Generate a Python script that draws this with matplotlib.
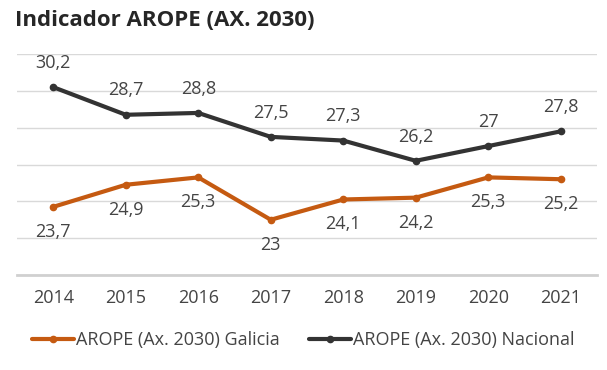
import matplotlib
matplotlib.use("Agg")
import matplotlib.pyplot as plt

# data
years = ["2014", "2015", "2016", "2017", "2018", "2019", "2020", "2021"]
galicia = [23.7, 24.9, 25.3, 23.0, 24.1, 24.2, 25.3, 25.2]
nacional = [30.2, 28.7, 28.8, 27.5, 27.3, 26.2, 27.0, 27.8]

ORANGE = "#C55A11"
DARK = "#333333"
TEXT = "#444444"

plt.rcParams["font.family"] = ["Open Sans", "DejaVu Sans"]


def fmt(v):
    # Spanish decimal comma, drop ".0"
    if v == int(v):
        return str(int(v))
    return f"{v:.1f}".replace(".", ",")


fig = plt.figure(figsize=(6.07, 3.70), dpi=100)
ax = fig.add_axes([17 / 607, 95 / 370, 580 / 607, 221 / 370])

x = range(len(years))
ax.plot(x, galicia, color=ORANGE, lw=3, marker="o", ms=4.5,
        solid_capstyle="round", label="AROPE (Ax. 2030) Galicia", zorder=3)
ax.plot(x, nacional, color=DARK, lw=3, marker="o", ms=4.5,
        solid_capstyle="round", label="AROPE (Ax. 2030) Nacional", zorder=3)

# data labels: Nacional above, Galicia below
for i, v in enumerate(nacional):
    ax.annotate(fmt(v), (i, v), xytext=(0, 17.5), textcoords="offset points",
                ha="center", va="center", fontsize=13, color=TEXT)
for i, v in enumerate(galicia):
    ax.annotate(fmt(v), (i, v), xytext=(0, -18), textcoords="offset points",
                ha="center", va="center", fontsize=13, color=TEXT)

ax.set_xlim(-0.5, len(years) - 0.5)
ax.set_ylim(20, 32)
ax.set_yticks(range(20, 33, 2))
ax.set_xticks(list(x))
ax.set_xticklabels(years, fontsize=13, color=TEXT)
ax.tick_params(axis="y", left=False, labelleft=False)
ax.tick_params(axis="x", length=0, pad=10)
ax.grid(axis="y", color="#D9D9D9", lw=1)
ax.set_axisbelow(True)
for side in ["top", "right", "left"]:
    ax.spines[side].set_visible(False)
ax.spines["bottom"].set_color("#D0D0D0")
ax.spines["bottom"].set_linewidth(2)

fig.text(15 / 607, 1 - 20 / 370, "Indicador AROPE (AX. 2030)", fontsize=16,
         fontweight="bold", color="#262626", va="center", ha="left")

fig.legend(loc="center", bbox_to_anchor=(0.5, 1 - 340 / 370), ncol=2,
           frameon=False, fontsize=13, handlelength=2.3, handletextpad=0.15,
           columnspacing=1.6, labelcolor=TEXT)

fig.savefig("out.png", dpi=100)
